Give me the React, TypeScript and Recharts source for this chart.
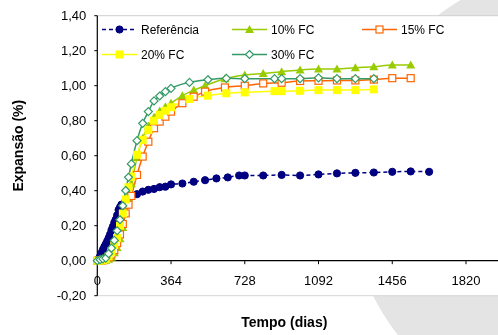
import React from 'react';
import { LineChart, Line, XAxis, YAxis, CartesianGrid, ReferenceLine, Legend } from 'recharts';

// eixos
const xTicks = [0, 364, 728, 1092, 1456, 1820];
const yTicks = [-0.2, 0, 0.2, 0.4, 0.6, 0.8, 1.0, 1.2, 1.4];

// Referência
const refDays = [0, 7, 14, 21, 28, 35, 42, 49, 56, 63, 70, 77, 84, 91, 98, 105, 112, 119, 140, 168, 196, 224, 252, 280, 308, 336, 364, 420, 476, 532, 588, 644, 700, 728, 819, 910, 1001, 1092, 1183, 1274, 1365, 1456, 1547, 1638];
const refValues = [0, 0.012, 0.025, 0.045, 0.063, 0.08, 0.095, 0.112, 0.13, 0.15, 0.175, 0.195, 0.218, 0.235, 0.26, 0.29, 0.305, 0.32, 0.345, 0.367, 0.38, 0.395, 0.405, 0.41, 0.42, 0.423, 0.436, 0.441, 0.451, 0.46, 0.47, 0.476, 0.487, 0.487, 0.487, 0.49, 0.487, 0.493, 0.499, 0.502, 0.504, 0.508, 0.51, 0.508];

// 10% FC
const fc10Days = [0, 14, 28, 42, 56, 70, 84, 98, 112, 126, 140, 154, 168, 196, 224, 252, 280, 308, 336, 364, 420, 476, 532, 630, 728, 819, 910, 1001, 1092, 1183, 1274, 1365, 1456, 1547];
const fc10Values = [0, 0, 0, 0.003, 0.008, 0.02, 0.045, 0.075, 0.125, 0.19, 0.275, 0.36, 0.44, 0.59, 0.7, 0.77, 0.82, 0.855, 0.88, 0.9, 0.943, 0.975, 1.0, 1.04, 1.061, 1.07, 1.08, 1.09, 1.095, 1.095, 1.103, 1.108, 1.118, 1.118];

// 15% FC
const fc15Days = [0, 14, 28, 42, 56, 70, 84, 98, 112, 126, 140, 154, 168, 196, 224, 252, 280, 308, 336, 364, 420, 476, 532, 630, 728, 819, 910, 1001, 1092, 1183, 1274, 1365, 1456, 1547];
const fc15Values = [0, 0, 0.003, 0.01, 0.02, 0.035, 0.06, 0.1, 0.15, 0.21, 0.27, 0.32, 0.37, 0.49, 0.595, 0.68, 0.757, 0.795, 0.823, 0.852, 0.9, 0.937, 0.966, 0.99, 1.0, 1.013, 1.017, 1.027, 1.028, 1.03, 1.03, 1.035, 1.043, 1.043];

// 20% FC
const fc20Days = [0, 14, 28, 42, 56, 70, 84, 98, 112, 126, 140, 154, 168, 196, 224, 252, 280, 308, 336, 364, 455, 546, 637, 728, 875, 910, 1001, 1092, 1183, 1274, 1365];
const fc20Values = [0, 0, 0.004, 0.01, 0.025, 0.05, 0.09, 0.13, 0.2, 0.27, 0.35, 0.42, 0.48, 0.605, 0.69, 0.747, 0.8, 0.833, 0.857, 0.877, 0.924, 0.943, 0.957, 0.962, 0.969, 0.969, 0.971, 0.975, 0.975, 0.975, 0.979];

// 30% FC
const fc30Days = [0, 14, 28, 42, 56, 70, 84, 98, 112, 126, 140, 154, 168, 196, 224, 252, 280, 308, 336, 364, 455, 546, 637, 728, 875, 910, 1001, 1092, 1183, 1274, 1365];
const fc30Values = [0, 0.006, 0.01, 0.015, 0.04, 0.072, 0.116, 0.171, 0.234, 0.314, 0.401, 0.477, 0.553, 0.686, 0.785, 0.852, 0.913, 0.941, 0.966, 0.985, 1.019, 1.034, 1.042, 1.04, 1.04, 1.04, 1.04, 1.045, 1.04, 1.04, 1.04];

const toPoints = (days: number[], values: number[]) => days.map((day, i) => ({ day, value: values[i] }));

type MarkerKind = 'circle' | 'triangle' | 'openSquare' | 'square' | 'diamond';

const series: { name: string; color: string; marker: MarkerKind; dash?: string; data: { day: number; value: number }[] }[] = [
  { name: 'Referência', color: '#000080', marker: 'circle', dash: '4 3', data: toPoints(refDays, refValues) },
  { name: '10% FC', color: '#99CC00', marker: 'triangle', data: toPoints(fc10Days, fc10Values) },
  { name: '15% FC', color: '#FF6600', marker: 'openSquare', data: toPoints(fc15Days, fc15Values) },
  { name: '20% FC', color: '#FFFF00', marker: 'square', data: toPoints(fc20Days, fc20Values) },
  { name: '30% FC', color: '#339966', marker: 'diamond', data: toPoints(fc30Days, fc30Values) },
];

const Marker = ({ kind, cx, cy, color }: { kind: MarkerKind; cx?: number; cy?: number; color: string }) => {
  if (cx == null || cy == null) return null;
  switch (kind) {
    case 'circle':
      return <circle cx={cx} cy={cy} r={3.6} fill={color} stroke={color} />;
    case 'triangle':
      return <polygon points={`${cx},${cy - 4.5} ${cx - 4.5},${cy + 3.5} ${cx + 4.5},${cy + 3.5}`} fill={color} />;
    case 'openSquare':
      return <rect x={cx - 3.5} y={cy - 3.5} width={7} height={7} fill="#fff" stroke={color} strokeWidth={1.2} />;
    case 'square':
      return <rect x={cx - 4} y={cy - 4} width={8} height={8} fill={color} />;
    case 'diamond':
      return <polygon points={`${cx},${cy - 4} ${cx + 4},${cy} ${cx},${cy + 4} ${cx - 4},${cy}`} fill="#fff" stroke={color} strokeWidth={1.2} />;
  }
  return null;
};

const fmtY = (v: number) => v.toFixed(2).replace('.', ',');

const renderLegend = () => (
  <svg width={400} height={50} style={{ display: 'block' }}>
    {series.map((s, i) => {
      const x = (i % 3) * 130 + 2;
      const y = Math.floor(i / 3) * 25 + 12.5;
      return (
        <g key={s.name}>
          <line x1={x} x2={x + 35} y1={y} y2={y} stroke={s.color} strokeWidth={1.5} strokeDasharray={s.dash} />
          <Marker kind={s.marker} cx={x + 17.5} cy={y} color={s.color} />
          <text x={x + 39} y={y + 4.3} fontSize={12} fill="#000">{s.name}</text>
        </g>
      );
    })}
  </svg>
);

export default function App() {
  return (
    <div
      style={{
        position: 'fixed',
        left: 0,
        top: 0,
        width: 498,
        height: 335,
        overflow: 'hidden',
        background: 'radial-gradient(circle 227px at 576px 195px, #e4e4e4 99.6%, #ffffff 100%)',
        fontFamily: '"Liberation Sans", Arial, sans-serif',
      }}
    >
      <LineChart width={498} height={335} margin={{ top: 15.7, right: 0, bottom: 0, left: 0 }}>
        <CartesianGrid horizontal={false} vertical={false} fill="#fff" fillOpacity={1} />
        <XAxis
          type="number"
          dataKey="day"
          domain={[0, 1978]}
          ticks={xTicks}
          height={39.3}
          axisLine={false}
          tickLine={false}
          tick={false}
          label={{
            content: ({ viewBox }: any) => (
              <text x={viewBox.x + 187} y={327} textAnchor="middle" fontSize={14} fontWeight="bold" fill="#000">
                Tempo (dias)
              </text>
            ),
          }}
        />
        <YAxis
          type="number"
          domain={[-0.2, 1.4]}
          ticks={yTicks}
          interval={0}
          width={97.3}
          tickFormatter={fmtY}
          tickSize={3}
          tickMargin={8}
          axisLine={{ stroke: '#000', strokeWidth: 1.2 }}
          tickLine={{ stroke: '#000' }}
          tick={{ fontSize: 13, fill: '#000' }}
          label={{
            content: ({ viewBox }: any) => {
              const cx = viewBox.x + 18.5;
              const cy = viewBox.y + viewBox.height / 2 - 10;
              return (
                <text x={cx} y={cy} transform={`rotate(-90 ${cx} ${cy})`} textAnchor="middle" dominantBaseline="central" fontSize={14} fontWeight="bold" fill="#000">
                  Expansão (%)
                </text>
              );
            },
          }}
        />
        <ReferenceLine y={1.4} stroke="#cfcfcf" />
        <ReferenceLine y={-0.2} stroke="#d6d6d6" />
        <ReferenceLine y={0} stroke="#000" strokeWidth={1.2} />
        {xTicks.map((t) => (
          <ReferenceLine
            key={t}
            segment={[{ x: t, y: 0 }, { x: t, y: -0.02 }]}
            stroke="#000"
            label={{ value: String(t), position: 'bottom', offset: 12, fontSize: 13, fill: '#000' }}
          />
        ))}
        <Legend verticalAlign="middle" align="center" layout="horizontal" content={renderLegend} wrapperStyle={{ left: 100, top: 17, width: 400, height: 50 }} />
        {series.map((s) => (
          <Line
            key={s.name}
            data={s.data}
            dataKey="value"
            name={s.name}
            type="monotone"
            stroke={s.color}
            strokeWidth={1.5}
            strokeDasharray={s.dash}
            isAnimationActive={false}
            dot={(p: any) => <Marker key={`${s.name}-${p.index}`} kind={s.marker} cx={p.cx} cy={p.cy} color={s.color} />}
            activeDot={false}
          />
        ))}
      </LineChart>
    </div>
  );
}
